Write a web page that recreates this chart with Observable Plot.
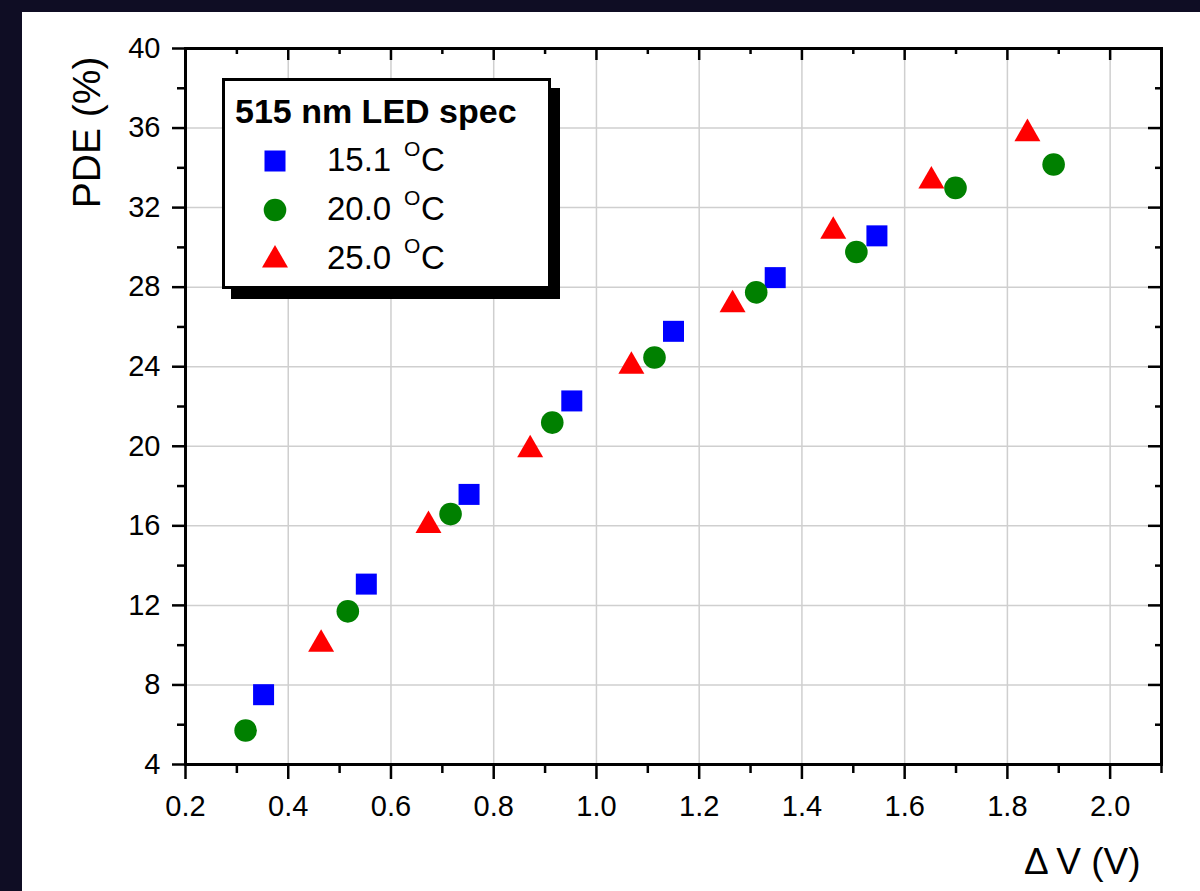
<!DOCTYPE html>
<html>
<head>
<meta charset="utf-8">
<script src="https://cdn.jsdelivr.net/npm/d3@7"></script>
<script src="https://cdn.jsdelivr.net/npm/@observablehq/plot@0.6"></script>
<style>
  html, body { margin: 0; padding: 0; background: #0f0d24; }
  #wrap { position: relative; width: 1200px; height: 891px; overflow: hidden; }
  #panel { position: absolute; left: 22px; top: 12px; width: 1178px; height: 879px; background: #ffffff; }
  #chart { position: absolute; left: 0; top: 0; }
</style>
</head>
<body>
<div id="wrap"><div id="panel"></div><div id="chart"></div></div>
<script>
// ---- data (ΔV in volts, PDE in %) ----
const dv151 = [0.352, 0.552, 0.752, 0.952, 1.150, 1.348, 1.546];
const pde151 = [7.51, 13.07, 17.58, 22.28, 25.78, 28.48, 30.58];

const dv200 = [0.317, 0.516, 0.716, 0.914, 1.113, 1.311, 1.506, 1.699, 1.890];
const pde200 = [5.71, 11.70, 16.59, 21.19, 24.46, 27.74, 29.77, 32.99, 34.17];

const dv250 = [0.464, 0.673, 0.871, 1.068, 1.265, 1.461, 1.652, 1.839];
const pde250 = [10.05, 16.02, 19.83, 24.02, 27.12, 30.81, 33.34, 35.72];

const seriesLabels = ["15.1", "20.0", "25.0"];
const legendTitle = "515 nm LED spec";
const xTitle = "Δ\u2009V (V)";
const yTitle = "PDE (%)";

const xMajor = [0.2, 0.4, 0.6, 0.8, 1.0, 1.2, 1.4, 1.6, 1.8, 2.0];
const xMinor = [0.3, 0.5, 0.7, 0.9, 1.1, 1.3, 1.5, 1.7, 1.9, 2.1];
const yMajor = [4, 8, 12, 16, 20, 24, 28, 32, 36, 40];
const yMinor = [6, 10, 14, 18, 22, 26, 30, 34, 38];

// ---- build rows ----
const rows151 = dv151.map((d, i) => ({x: d, y: pde151[i]}));
const rows200 = dv200.map((d, i) => ({x: d, y: pde200[i]}));
const rows250 = dv250.map((d, i) => ({x: d, y: pde250[i]}));

const W = 1200, H = 891;
const mL = 185, mR = 39, mT = 48, mB = 127;
const plotW = W - mL - mR, plotH = H - mT - mB;
const FONT = "'Liberation Sans', Arial, Helvetica, sans-serif";
const BLUE = "#0000ff", GREEN = "#008000", RED = "#ff0000";

const chart = Plot.plot({
  width: W,
  height: H,
  marginLeft: mL,
  marginRight: mR,
  marginTop: mT,
  marginBottom: mB,
  style: {background: "transparent", fontFamily: FONT, color: "black"},
  x: {domain: [0.2, 2.1]},
  y: {domain: [4, 40]},
  marks: [
    Plot.gridX(xMajor, {stroke: "#cfcfcf", strokeOpacity: 1, strokeWidth: 1.5}),
    Plot.gridY(yMajor, {stroke: "#cfcfcf", strokeOpacity: 1, strokeWidth: 1.5}),
    // bottom axis (outward)
    Plot.axisX(xMajor, {anchor: "bottom", tickSize: 15, tickPadding: 16, tickFormat: d3.format(".1f"),
      fontSize: 29, strokeWidth: 2.5, label: null}),
    Plot.axisX(xMinor, {anchor: "bottom", tickSize: 9, text: null, strokeWidth: 2.5, label: null}),
    // left axis (outward)
    Plot.axisY(yMajor, {anchor: "left", tickSize: 13, tickPadding: 12, tickFormat: d3.format("d"),
      fontSize: 29, strokeWidth: 2.5, label: null}),
    Plot.axisY(yMinor, {anchor: "left", tickSize: 8, text: null, strokeWidth: 2.5, label: null}),
    // top axis (inward ticks)
    Plot.tickX(xMajor, {x: d => d, insetBottom: plotH - 12, stroke: "black", strokeWidth: 2.5}),
    Plot.tickX(xMinor, {x: d => d, insetBottom: plotH - 6, stroke: "black", strokeWidth: 2.5}),
    // right axis (inward ticks)
    Plot.tickY(yMajor, {y: d => d, insetLeft: plotW - 13, stroke: "black", strokeWidth: 2.5}),
    Plot.tickY(yMinor, {y: d => d, insetLeft: plotW - 6, stroke: "black", strokeWidth: 2.5}),
    Plot.frame({stroke: "black", strokeWidth: 3}),
    // data
    Plot.dot(rows151, {x: "x", y: "y", symbol: "square", r: 11.85, fill: BLUE, stroke: "none"}),
    Plot.dot(rows200, {x: "x", y: "y", symbol: "circle", r: 11.3, fill: GREEN, stroke: "none"}),
    Plot.dot(rows250, {x: "x", y: "y", symbol: "triangle", r: 9.65, fill: RED, stroke: "none"}),
    // axis titles
    Plot.text([xTitle], {text: d => d, frameAnchor: "bottom-right", dx: -21, dy: 109,
      textAnchor: "end", lineAnchor: "bottom", fontSize: 37, fill: "black"}),
    Plot.text([yTitle], {text: d => d, frameAnchor: "top-left", dx: -86, dy: 8, rotate: -90,
      textAnchor: "end", lineAnchor: "bottom", fontSize: 39, fill: "black"})
  ]
});

document.getElementById("chart").appendChild(chart);

// ---- legend box with drop shadow ----
const svg = d3.select(chart);
const lg = svg.append("g").attr("font-family", FONT).attr("fill", "black").attr("text-anchor", "start");
lg.append("rect").attr("x", 231).attr("y", 88).attr("width", 329).attr("height", 211).attr("fill", "black");
lg.append("rect").attr("x", 223.5).attr("y", 79.5).attr("width", 326).attr("height", 208)
  .attr("fill", "white").attr("stroke", "black").attr("stroke-width", 3);
lg.append("text").attr("x", 235).attr("y", 123).attr("font-size", 34).attr("font-weight", "bold")
  .attr("text-anchor", "start").text(legendTitle);

const symbols = [
  {type: d3.symbolSquare, size: 11.85 * 11.85 * Math.PI, color: BLUE, cy: 161, base: 171},
  {type: d3.symbolCircle, size: 11.3 * 11.3 * Math.PI, color: GREEN, cy: 210, base: 220},
  {type: d3.symbolTriangle, size: 9.65 * 9.65 * Math.PI, color: RED, cy: 260, base: 268.5}
];
symbols.forEach((s, i) => {
  lg.append("path").attr("d", d3.symbol(s.type, s.size)())
    .attr("transform", `translate(275,${s.cy})`).attr("fill", s.color);
  const t = lg.append("text").attr("y", s.base).attr("font-size", 33).attr("text-anchor", "start");
  t.append("tspan").attr("x", 327).text(seriesLabels[i]);
  t.append("tspan").attr("x", 404).attr("y", s.base - 15.5).attr("font-size", 21).text("O");
  t.append("tspan").attr("x", 421).attr("y", s.base).text("C");
});
</script>
</body>
</html>
